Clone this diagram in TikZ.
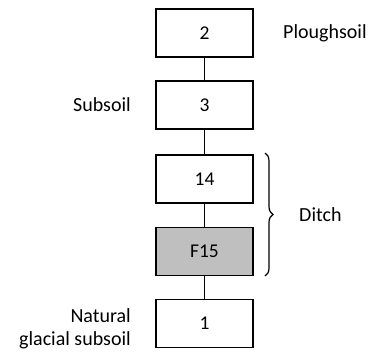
\documentclass[tikz,border=0pt]{standalone}
\usepackage{fontspec}
\setmainfont{Carlito}
\usetikzlibrary{decorations.pathreplacing}
\definecolor{boxgray}{RGB}{191,191,191}
\tikzset{
  layer/.style={draw=black, line width=1.8pt, minimum width=97pt, minimum height=48pt, inner sep=0pt, font=\fontsize{19.5}{22}\selectfont},
  lbl/.style={font=\fontsize{20}{23}\selectfont, inner sep=0pt},
  link/.style={line width=1.8pt}
}
\begin{document}
\begin{tikzpicture}[x=1pt,y=-1pt]
\useasboundingbox (0,0) rectangle (373,354);
\node[layer] (n2) at (204.5,33) {2};
\node[layer] (n3) at (204.5,105) {3};
\node[layer] (n14) at (204.5,179) {14};
\node[layer, fill=boxgray] (n15) at (204.5,251.5) {F15};
\node[layer] (n1) at (204.5,323.5) {1};
\draw[link] (n2) -- (n3);
\draw[link] (n3) -- (n14);
\draw[link] (n14) -- (n15);
\draw[link] (n15) -- (n1);
\node[lbl, anchor=west] (pl) at (283,33) {Ploughsoil};
\node[lbl, anchor=east] (sub) at (131,105) {Subsoil};
\node[lbl, anchor=east, align=right] (nat) at (131,329) {Natural\\glacial subsoil};
\coordinate (bt) at (265,153);
\coordinate (bb) at (265,276);
\draw[line width=1.2pt, decorate, decoration={brace, amplitude=8pt}] (bt) -- (bb);
\node[lbl, anchor=west] (ditch) at (299,215) {Ditch};
\end{tikzpicture}
\end{document}
